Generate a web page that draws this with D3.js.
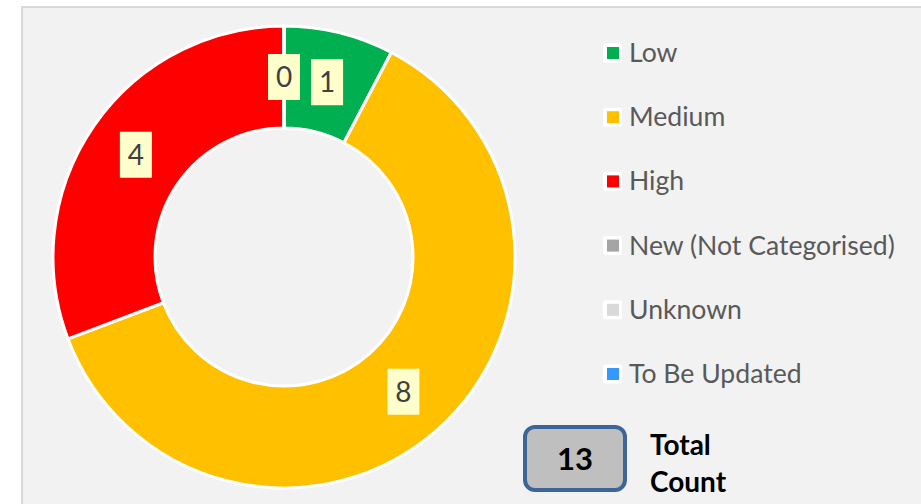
<!DOCTYPE html>
<html>
<head>
<meta charset="utf-8">
<script src="https://d3js.org/d3.v7.min.js"></script>
<style>
  html, body { margin: 0; padding: 0; background: #ffffff; }
  svg { display: block; }
</style>
</head>
<body>
<div id="chart"></div>
<script>
// Chart data
const categories = ["Low", "Medium", "High", "New (Not Categorised)", "Unknown", "To Be Updated"];
const counts = [1, 8, 4, 0, 0, 0];
const sliceColors = ["#00b050", "#ffc000", "#ff0000", "#a5a5a5", "#d9d9d9", "#3399ff"];
const totalLabel = ["Total", "Count"];

// Layout constants
const width = 921;
const height = 504;
const cx = 284;
const cy = 257;
const outerR = 231;
const innerR = 129;
const labelR = (outerR + innerR) / 2;
const fontFamily = "Lato, 'Open Sans', sans-serif";

const svg = d3.select("#chart")
    .append("svg")
    .attr("width", width)
    .attr("height", height);

// Chart area background
svg.append("rect")
    .attr("x", 22)
    .attr("y", 7)
    .attr("width", width)
    .attr("height", height)
    .style("fill", "#f2f2f2")
    .style("stroke", "#d9d9d9")
    .style("stroke-width", 2);

const rows = categories.map((c, i) => ({ name: c, value: counts[i], color: sliceColors[i] }));

const pie = d3.pie().sort(null).value(d => d.value);
const arc = d3.arc().innerRadius(innerR).outerRadius(outerR);
const labelArc = d3.arc().innerRadius(labelR).outerRadius(labelR);

const donut = svg.append("g").attr("transform", `translate(${cx},${cy})`);
const arcs = pie(rows);

donut.selectAll("path.slice")
    .data(arcs)
    .enter()
    .append("path")
    .attr("class", "slice")
    .attr("d", arc)
    .style("fill", d => d.data.color)
    .style("stroke", "#ffffff")
    .style("stroke-width", 3)
    .style("stroke-linejoin", "round");

// Data labels (zero values sit on top of each other at 12 o'clock)
const lbl = donut.selectAll("g.lbl")
    .data(arcs)
    .enter()
    .append("g")
    .attr("class", "lbl")
    .attr("transform", d => `translate(${labelArc.centroid(d)})`);

lbl.append("rect")
    .attr("x", -16)
    .attr("y", -23)
    .attr("width", 32)
    .attr("height", 46)
    .style("fill", "#ffffcc");

lbl.append("text")
    .attr("text-anchor", "middle")
    .attr("dy", "0.36em")
    .style("font-family", fontFamily)
    .style("font-size", "28px")
    .style("fill", "#404040")
    .text(d => d.data.value);

// Legend
const legendY = d3.scalePoint().domain(categories).range([53, 374]);
const legend = svg.selectAll("g.legend")
    .data(rows)
    .enter()
    .append("g")
    .attr("class", "legend")
    .attr("transform", d => `translate(603,${legendY(d.name)})`);

legend.append("rect")
    .attr("x", 0)
    .attr("y", -9.5)
    .attr("width", 19)
    .attr("height", 19)
    .attr("rx", 2)
    .style("fill", "#ffffff");

legend.append("rect")
    .attr("x", 4)
    .attr("y", -6)
    .attr("width", 12)
    .attr("height", 12)
    .style("fill", d => d.color);

legend.append("text")
    .attr("x", 26)
    .attr("y", 9)
    .style("font-family", fontFamily)
    .style("font-size", "26.6px")
    .style("fill", "#595959")
    .text(d => d.name);

// Total count box
const total = d3.sum(counts);
svg.append("rect")
    .attr("x", 525)
    .attr("y", 427)
    .attr("width", 100)
    .attr("height", 63)
    .attr("rx", 10)
    .style("fill", "#bfbfbf")
    .style("stroke", "#3d6597")
    .style("stroke-width", 4);

svg.append("text")
    .attr("x", 575)
    .attr("y", 459)
    .attr("dy", "0.36em")
    .attr("text-anchor", "middle")
    .style("font-family", fontFamily)
    .style("font-weight", "bold")
    .style("font-size", "31px")
    .style("fill", "#000000")
    .text(total);

svg.selectAll("text.totlbl")
    .data(totalLabel)
    .enter()
    .append("text")
    .attr("class", "totlbl")
    .attr("x", 650)
    .attr("y", (d, i) => 455 + i * 37)
    .style("font-family", fontFamily)
    .style("font-weight", "bold")
    .style("font-size", "28px")
    .style("fill", "#000000")
    .text(d => d);
</script>
</body>
</html>
